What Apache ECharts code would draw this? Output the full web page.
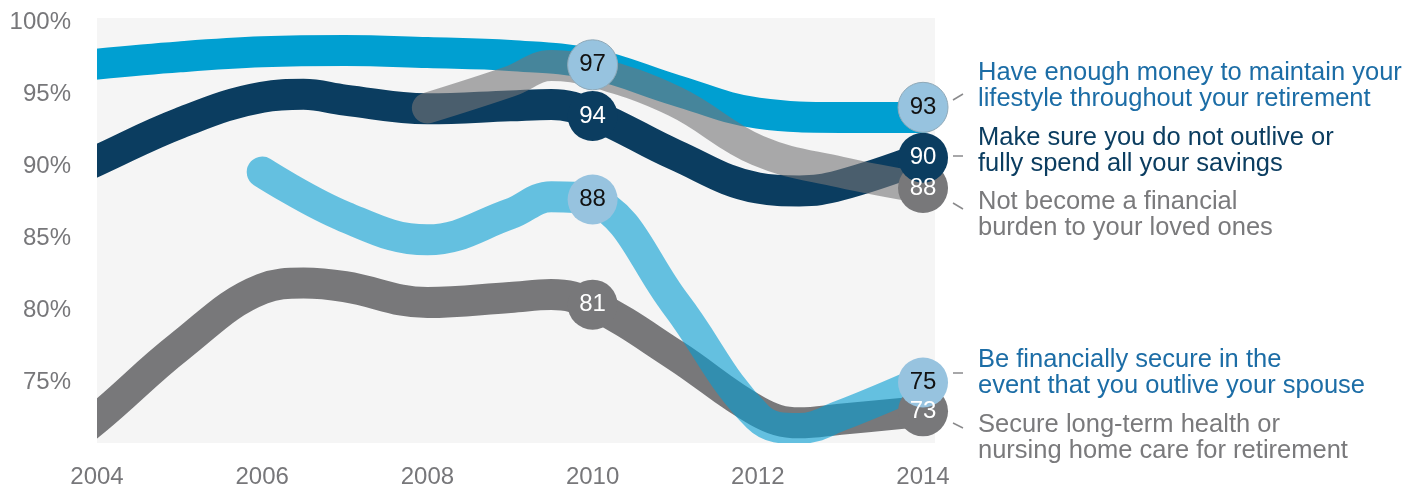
<!DOCTYPE html>
<html>
<head>
<meta charset="utf-8">
<script src="https://cdn.jsdelivr.net/npm/echarts@6/dist/echarts.min.js"></script>
<style>
  html,body{margin:0;padding:0;background:#fff;}
  #main{width:1428px;height:489px;}
</style>
</head>
<body>
<div id="main"></div>
<script>
// survey years (half years only where the curve turns)
const years   = [2003, 2004, 2005, 2006, 2006.5, 2007, 2008, 2009, 2009.5, 2010, 2011, 2012, 2012.5, 2013, 2014]
const money   = [96.5, 97.1, 97.6, 97.95, null, 98.05, 97.9, 97.7, null, 97.1, 95.3, 93.7, null, 93.4, 93.4]
const outlive = [87.8, 90.4, 93.0, 94.8, 95.0, 94.6, 94.0, 94.2, 94.3, 93.6, 90.8, 88.5, 88.3, 88.7, 90.6]
const burden  = [null, null, null, null, null, null, 94.05, 95.9, 97.0, 96.6, 94.5, 91.1, null, 89.6, 88.5]
const spouse  = [null, null, null, 89.6, null, 86.5, 84.9, 86.7, 87.9, 87.6, 80.5, 72.6, 71.8, 72.7, 75.1]
const health  = [68.0, 72.5, 77.5, 81.5, 81.9, 81.65, 80.55, 80.9, 81.1, 80.4, 76.9, 73.0, 72.2, 72.45, 73.0]

// bubbles at 2010 and 2014
const markYears    = [2010, 2014]
const moneyMark    = [97.05, 94.1]
const moneyText    = [97, 93]
const outliveMark  = [93.5, 90.6]
const outliveText  = [94, 90]
const burdenMark   = [null, 88.5]
const burdenText   = [null, 88]
const spouseMark   = [87.7, 75.0]
const spouseText   = [88, 75]
const healthMark   = [80.4, 73.0]
const healthText   = [81, 73]

const xTicks = [2004, 2006, 2008, 2010, 2012, 2014]
const yTicks = [75, 80, 85, 90, 95, 100]

const FONT = 'Liberation Sans'

function pairs(vals){
  return years.map((y,i)=>[y, vals[i]]).filter(p=>p[1]!=null)
}
function marks(pos, txt){
  return markYears.map((y,i)=>[y, pos[i], txt[i]]).filter(p=>p[1]!=null)
}
function lineSeries(name, vals, color){
  return {
    name:name, type:'line', data:pairs(vals), smooth:0.4, z:2,
    showSymbol:false, symbol:'none', silent:true,
    lineStyle:{color:color, width:31, cap:'round', join:'round'}
  }
}
function markSeries(pos, txt, fill, textColor, border){
  return {
    type:'scatter', data:marks(pos, txt), symbolSize:50, silent:true, z:5,
    itemStyle:{color:fill, opacity:1, borderColor:border||fill, borderWidth:border?1:0},
    label:{show:true, position:'inside', color:textColor, fontSize:24, fontFamily:FONT,
      formatter:p=>String(p.value[2])}
  }
}

const legendItems = [
  {text:'Have enough money to maintain your\nlifestyle throughout your retirement', top:60, color:'#1c6da6'},
  {text:'Make sure you do not outlive or\nfully spend all your savings', top:125, color:'#0b3d60'},
  {text:'Not become a financial\nburden to your loved ones', top:189, color:'#7a7a7c'},
  {text:'Be financially secure in the\nevent that you outlive your spouse', top:347, color:'#1c6da6'},
  {text:'Secure long-term health or\nnursing home care for retirement', top:412, color:'#7a7a7c'}
]
const leaders = [[953,100,963,94],[953,156,963,156],[953,203,963,209],[953,373,963,373],[953,423,963,428]]

let chart = echarts.init(document.getElementById('main'), null, {renderer:'canvas'})

let option = {
  animation:false,
  grid:{left:97, right:493, top:18, bottom:46, show:true, backgroundColor:'#f5f5f5', borderWidth:0},
  xAxis:{
    type:'value', min:2004, max:2014.145, z:10,
    axisLine:{show:false}, axisTick:{show:false}, splitLine:{show:false},
    axisLabel:{customValues:xTicks, color:'#77777a', fontSize:24, fontFamily:FONT, margin:22,
      formatter:v=>String(v)}
  },
  yAxis:{
    type:'value', min:70.8, max:100.3, z:10,
    axisLine:{show:false}, axisTick:{show:false}, splitLine:{show:false},
    axisLabel:{customValues:yTicks, color:'#77777a', fontSize:24, fontFamily:FONT, margin:26,
      padding:[4,0,0,0], formatter:v=>v+'%'}
  },
  series:[
    lineSeries('money', money, '#009fd1'),
    lineSeries('outlive', outlive, '#0b3d60'),
    lineSeries('health', health, '#78787a'),
    lineSeries('burden', burden, 'rgba(117,117,119,0.6)'),
    lineSeries('spouse', spouse, 'rgba(3,157,210,0.6)'),
    markSeries(healthMark, healthText, '#78787a', '#ffffff'),
    markSeries(burdenMark, burdenText, '#78787a', '#ffffff'),
    markSeries(spouseMark, spouseText, '#97c3df', '#111111'),
    markSeries(outliveMark, outliveText, '#0b3d60', '#ffffff'),
    markSeries(moneyMark, moneyText, '#97c3df', '#111111', '#8fa9b8')
  ],
  graphic:[
    // white masks so the thick lines stop at the plot edge
    {type:'rect', z:4, silent:true, shape:{x:0, y:0, width:97, height:489}, style:{fill:'#ffffff'}},
    {type:'rect', z:4, silent:true, shape:{x:0, y:443, width:936, height:46}, style:{fill:'#ffffff'}},
    ...legendItems.map(it=>({
      type:'text', left:978, top:it.top, silent:true, z:6,
      style:{text:it.text, fill:it.color, font:'25.5px "'+FONT+'"', lineHeight:26}
    })),
    ...leaders.map(l=>({
      type:'line', silent:true, z:6,
      shape:{x1:l[0], y1:l[1], x2:l[2], y2:l[3]},
      style:{stroke:'#8a8a8c', lineWidth:1.5}
    }))
  ]
}
chart.setOption(option)
</script>
</body>
</html>
